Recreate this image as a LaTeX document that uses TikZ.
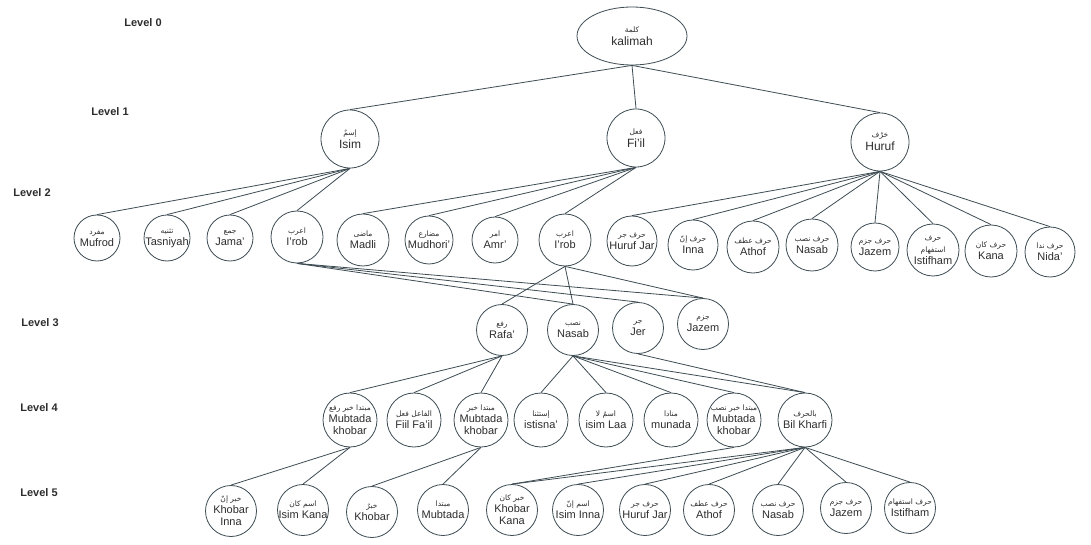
\documentclass[tikz,border=0pt]{standalone}
\usepackage{fontspec}
\usetikzlibrary{shapes.geometric}
\setmainfont{Liberation Sans}
\newfontfamily\arabicfont[Script=Arabic]{DejaVu Sans}
\TeXXeTstate=1
\definecolor{edgecol}{RGB}{62,76,84}
\definecolor{txtcol}{RGB}{45,45,45}
\newcommand{\arb}{\arabicfont\fontsize{7.5}{8.5}\selectfont}
\tikzset{
  ndtxt/.style={text=txtcol, align=center, inner sep=0pt, font=\fontsize{11}{12}\selectfont},
  bigtxt/.style={text=txtcol, align=center, inner sep=0pt, font=\fontsize{12}{13}\selectfont},
  nd/.style={draw=edgecol, circle, inner sep=0pt, line width=0.8pt, label={[ndtxt]center:#1}},
  ndbig/.style={draw=edgecol, circle, inner sep=0pt, line width=0.8pt, minimum size=58, label={[bigtxt]center:#1}},
  lvl/.style={text=txtcol, font=\bfseries\fontsize{11}{12}\selectfont},
  edge/.style={draw=edgecol, line width=0.8pt}
}

\begin{document}
\begin{tikzpicture}[x=1pt, y=-1pt]
\useasboundingbox[fill=white] (0,0) rectangle (1091,545);

\node[lvl] (L0) at (143,23) {Level 0};
\node[lvl] (L1) at (110,112) {Level 1};
\node[lvl] (L2) at (32,193) {Level 2};
\node[lvl] (L3) at (40,323) {Level 3};
\node[lvl] (L4) at (39,408) {Level 4};
\node[lvl] (L5) at (39,493) {Level 5};

\node[ndbig={{\arb\beginR كلمة\endR}\\kalimah}, ellipse, minimum width=110, minimum height=58] (K) at (632,36) {};

\node[ndbig={{\arb\beginR إسمٌ\endR}\\Isim}] (I) at (350,139) {};
\node[ndbig={{\arb\beginR فعل\endR}\\Fi'il}] (F) at (636,138) {};
\node[ndbig={{\arb\beginR حَرْف\endR}\\Huruf}] (H) at (880,142) {};

\node[nd={{\arb\beginR مفرد\endR}\\Mufrod}, minimum size=46] (IMU) at (97,238) {};
\node[nd={{\arb\beginR تثنيه\endR}\\Tasniyah}, minimum size=46] (ITA) at (167,238) {};
\node[nd={{\arb\beginR جمع\endR}\\Jama'}, minimum size=46] (IJA) at (230,238) {};
\node[nd={{\arb\beginR اعرب\endR}\\I'rob}, minimum size=52] (IIR) at (297,237) {};
\node[nd={{\arb\beginR ماضى\endR}\\Madli}, minimum size=52] (FMA) at (363,240) {};
\node[nd={{\arb\beginR مضارع\endR}\\Mudhori'}, minimum size=48] (FMU) at (429,240) {};
\node[nd={{\arb\beginR امر\endR}\\Amr'}, minimum size=46] (FAM) at (495,240) {};
\node[nd={{\arb\beginR اعرب\endR}\\I'rob}, minimum size=52] (FIR) at (565,240) {};
\node[nd={{\arb\beginR حرف جر\endR}\\Huruf Jar}, minimum size=50] (HJA) at (632,241) {};
\node[nd={{\arb\beginR حرف إنّ\endR}\\Inna}, minimum size=50] (HIN) at (693,245) {};
\node[nd={{\arb\beginR حرف عطف\endR}\\Athof}, minimum size=52] (HAT) at (753,247) {};
\node[nd={{\arb\beginR حرف نصب\endR}\\Nasab}, minimum size=52] (HNA) at (812,245) {};
\node[nd={{\arb\beginR حرف جزم\endR}\\Jazem}, minimum size=48] (HJZ) at (875,247) {};
\node[nd={{\arb\beginR حرف\endR}\\{\arb\beginR استفهام\endR}\\Istifham}, minimum size=52] (HIS) at (933,250) {};
\node[nd={{\arb\beginR حرف كان\endR}\\Kana}, minimum size=52] (HKA) at (991,251) {};
\node[nd={{\arb\beginR حرف ندا\endR}\\Nida'}, minimum size=50] (HNI) at (1050,252) {};

\node[nd={{\arb\beginR رفع\endR}\\Rafa'}, minimum size=51] (RAF) at (502,330) {};
\node[nd={{\arb\beginR نصب\endR}\\Nasab}, minimum size=51] (NAS) at (573,330) {};
\node[nd={{\arb\beginR جر\endR}\\Jer}, minimum size=51] (JER) at (638,328) {};
\node[nd={{\arb\beginR جزم\endR}\\Jazem}, minimum size=51] (JAZ) at (703,324) {};

\node[nd={{\arb\beginR مبتدا خبر رفع\endR}\\Mubtada\\khobar}, minimum size=54] (MK1) at (350,420) {};
\node[nd={{\arb\beginR الفاعل فعل\endR}\\Fiil Fa'il}, minimum size=54] (FFA) at (414,420) {};
\node[nd={{\arb\beginR مبتدا خبر\endR}\\Mubtada\\khobar}, minimum size=54] (MK2) at (481,420) {};
\node[nd={{\arb\beginR إستثنا\endR}\\istisna'}, minimum size=54] (IST) at (541,420) {};
\node[nd={{\arb\beginR اسمُ لا\endR}\\isim Laa}, minimum size=54] (ILA) at (606,420) {};
\node[nd={{\arb\beginR منادا\endR}\\munada}, minimum size=54] (MUN) at (671,420) {};
\node[nd={{\arb\beginR مبتدا خبر نصب\endR}\\Mubtada\\khobar}, minimum size=54] (MK3) at (734,420) {};
\node[nd={{\arb\beginR بالحرف\endR}\\Bil Kharfi}, minimum size=54] (BKH) at (805,420) {};

\node[nd={{\arb\beginR خبر إنّ\endR}\\Khobar\\Inna}, minimum size=51] (KIN) at (231,511) {};
\node[nd={{\arb\beginR اسم كان\endR}\\Isim Kana}, minimum size=51] (IKA) at (303,510) {};
\node[nd={{\arb\beginR خبرٌ\endR}\\Khobar}, minimum size=51] (KHO) at (372,512) {};
\node[nd={{\arb\beginR مبتدا\endR}\\Mubtada}, minimum size=51] (MUB) at (443,510) {};
\node[nd={{\arb\beginR خبر كان\endR}\\Khobar\\Kana}, minimum size=51] (KKA) at (512,510) {};
\node[nd={{\arb\beginR اسم إنّ\endR}\\Isim Inna}, minimum size=51] (IIN) at (578,510) {};
\node[nd={{\arb\beginR حرف جر\endR}\\Huruf Jar}, minimum size=51] (HJ5) at (645,510) {};
\node[nd={{\arb\beginR حرف عطف\endR}\\Athof}, minimum size=51] (AT5) at (709,510) {};
\node[nd={{\arb\beginR حرف نصب\endR}\\Nasab}, minimum size=51] (NA5) at (778,510) {};
\node[nd={{\arb\beginR حرف جزم\endR}\\Jazem}, minimum size=51] (JZ5) at (846,508) {};
\node[nd={{\arb\beginR حرف استفهام\endR}\\Istifham}, minimum size=51] (IS5) at (910,508) {};

\draw[edge] (K.south) -- (I.north);
\draw[edge] (K.south) -- (F.north);
\draw[edge] (K.south) -- (H.north);

\draw[edge] (I.south) -- (IMU.north);
\draw[edge] (I.south) -- (ITA.north);
\draw[edge] (I.south) -- (IJA.north);
\draw[edge] (I.south) -- (IIR.north);
\draw[edge] (F.south) -- (FMA.north);
\draw[edge] (F.south) -- (FMU.north);
\draw[edge] (F.south) -- (FAM.north);
\draw[edge] (F.south) -- (FIR.north);
\draw[edge] (H.south) -- (HJA.north);
\draw[edge] (H.south) -- (HIN.north);
\draw[edge] (H.south) -- (HAT.north);
\draw[edge] (H.south) -- (HNA.north);
\draw[edge] (H.south) -- (HJZ.north);
\draw[edge] (H.south) -- (HIS.north);
\draw[edge] (H.south) -- (HKA.north);
\draw[edge] (H.south) -- (HNI.north);

\draw[edge] (IIR.south) -- (NAS.north);
\draw[edge] (IIR.south) -- (JER.north);
\draw[edge] (IIR.south) -- (JAZ.north);
\draw[edge] (FIR.south) -- (RAF.north);
\draw[edge] (FIR.south) -- (NAS.north);
\draw[edge] (FIR.south) -- (JAZ.north);

\draw[edge] (RAF.south) -- (MK1.north);
\draw[edge] (RAF.south) -- (FFA.north);
\draw[edge] (RAF.south) -- (MK2.north);
\draw[edge] (NAS.south) -- (IST.north);
\draw[edge] (NAS.south) -- (ILA.north);
\draw[edge] (NAS.south) -- (MUN.north);
\draw[edge] (NAS.south) -- (MK3.north);
\draw[edge] (NAS.south) -- (BKH.north);
\draw[edge] (JER.south) -- (BKH.north);

\draw[edge] (MK1.south) -- (KIN.north);
\draw[edge] (MK1.south) -- (IKA.north);
\draw[edge] (MK2.south) -- (KHO.north);
\draw[edge] (MK2.south) -- (MUB.north);
\draw[edge] (MK3.south) -- (KKA.north);
\draw[edge] (BKH.south) -- (KKA.north);
\draw[edge] (BKH.south) -- (IIN.north);
\draw[edge] (BKH.south) -- (HJ5.north);
\draw[edge] (BKH.south) -- (AT5.north);
\draw[edge] (BKH.south) -- (NA5.north);
\draw[edge] (BKH.south) -- (JZ5.north);
\draw[edge] (BKH.south) -- (IS5.north);

\end{tikzpicture}
\end{document}
